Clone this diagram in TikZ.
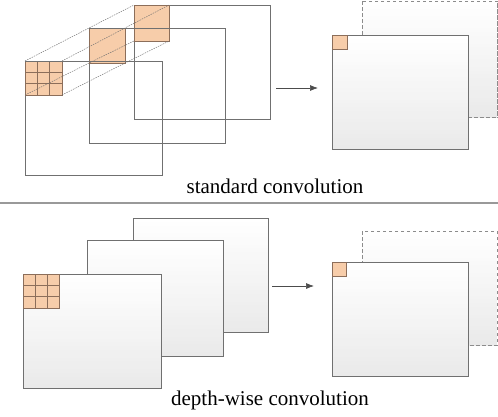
\documentclass[tikz,border=0pt]{standalone}
\usepackage{fontspec}
\setmainfont{Liberation Serif}[Scale=1.0]
\newfontfamily\capfont{Liberation Serif}[Scale=1.0]
\usetikzlibrary{arrows.meta,calc}
\definecolor{edge}{RGB}{112,112,112}
\definecolor{dedge}{RGB}{140,140,140}
\definecolor{kfill}{RGB}{247,205,170}
\definecolor{kedge}{RGB}{140,110,90}
\definecolor{shadebot}{RGB}{234,234,234}
\tikzset{
  plain/.style={draw=edge, line width=0.9pt, anchor=north west, inner sep=0pt, outer sep=0pt},
  sheet/.style={plain, fill=white},
  dsheet/.style={sheet, draw=dedge, dash pattern=on 3.5pt off 2.5pt},
  rim/.style={draw=edge, line width=0.9pt},
  drim/.style={draw=dedge, line width=0.9pt, dash pattern=on 3.5pt off 2.5pt},
  kern/.style={draw=kedge, fill=kfill, line width=0.8pt, anchor=north west, inner sep=0pt, outer sep=0pt},
  link/.style={draw=edge, line width=0.45pt, dash pattern=on 1.5pt off 1pt},
  flow/.style={draw=black!70, line width=0.7pt, -{Latex[length=8pt,width=6pt]}},
  captext/.style={font=\capfont\fontsize{21}{25}\selectfont, anchor=base},
  sep/.style={draw=black!40, line width=2pt}
}
\newcommand\gradfill[2]{%
  \foreach \i in {0,...,29}{%
    \pgfmathsetmacro\fa{\i/30}%
    \pgfmathsetmacro\fb{(\i+1.3)/30}%
    \pgfmathsetmacro\pct{\i*100/29}%
    \fill[shadebot!\pct!white] ($(#1.north west)!\fa!(#1.south west)$) rectangle ($(#1.north east)!\fb!(#1.south east)$);
  }%
  \draw[#2] (#1.north west) rectangle (#1.south east);
}
\begin{document}
\begin{tikzpicture}[x=1pt,y=-1pt]
\useasboundingbox (0,0) rectangle (498,416);
% ---------- standard convolution ----------
\node[plain, minimum width=136pt, minimum height=114pt] (s3) at (134,5) {};
\node[kern, minimum width=35pt, minimum height=36pt] (k3) at (134,5) {};
\node[plain, minimum width=136pt, minimum height=115pt] (s2) at (89,28) {};
\node[kern, minimum width=36pt, minimum height=35pt] (k2) at (89,28) {};
\node[plain, minimum width=137pt, minimum height=114pt] (s1) at (25,61) {};
\node[kern, minimum width=37pt, minimum height=34pt] (k1) at (25,61) {};
\foreach \t in {0.3333,0.6667}{
  \draw[kedge, line width=0.6pt] ($(k1.north west)!\t!(k1.north east)$) -- ($(k1.south west)!\t!(k1.south east)$);
  \draw[kedge, line width=0.6pt] ($(k1.north west)!\t!(k1.south west)$) -- ($(k1.north east)!\t!(k1.south east)$);
}
\foreach \c in {north west, north east, south east, south west}{
  \draw[link] (k1.\c) -- (k2.\c) -- (k3.\c);
}
\draw[edge, line width=0.9pt] (s2.north west) -- (s2.north east);
\draw[edge, line width=0.9pt] (s1.north west) -- (s1.north east);
\coordinate (a1s) at (276,88);
\coordinate (a1e) at (318,88);
\draw[flow] (a1s) -- (a1e);
\node[dsheet, minimum width=135pt, minimum height=116pt] (o2) at (362,1) {};
\gradfill{o2}{drim}
\node[sheet, minimum width=136pt, minimum height=114pt] (o1) at (332,35) {};
\gradfill{o1}{rim}
\node[kern, minimum width=15pt, minimum height=14pt] (ok1) at (332,35) {};
\node[captext] (c1) at (275,193) {standard convolution};
% separator
\coordinate (sl) at (0,203);
\coordinate (sr) at (498,203);
\draw[sep] (sl) -- (sr);
% ---------- depth-wise convolution ----------
\node[sheet, minimum width=135pt, minimum height=114pt] (d3) at (133,218) {};
\gradfill{d3}{rim}
\node[sheet, minimum width=136pt, minimum height=116pt] (d2) at (87,240) {};
\gradfill{d2}{rim}
\node[sheet, minimum width=138pt, minimum height=114pt] (d1) at (23,274) {};
\gradfill{d1}{rim}
\node[kern, minimum width=36pt, minimum height=34pt] (dk) at (23,274) {};
\foreach \t in {0.3333,0.6667}{
  \draw[kedge, line width=0.6pt] ($(dk.north west)!\t!(dk.north east)$) -- ($(dk.south west)!\t!(dk.south east)$);
  \draw[kedge, line width=0.6pt] ($(dk.north west)!\t!(dk.south west)$) -- ($(dk.north east)!\t!(dk.south east)$);
}
\coordinate (a2s) at (272,286);
\coordinate (a2e) at (314,286);
\draw[flow] (a2s) -- (a2e);
\node[dsheet, minimum width=135pt, minimum height=114pt] (p2) at (362,231) {};
\gradfill{p2}{drim}
\node[sheet, minimum width=136pt, minimum height=114pt] (p1) at (332,262) {};
\gradfill{p1}{rim}
\node[kern, minimum width=14pt, minimum height=14pt] (pk1) at (332,262) {};
\node[captext] (c2) at (270,405) {depth-wise convolution};
\end{tikzpicture}
\end{document}
